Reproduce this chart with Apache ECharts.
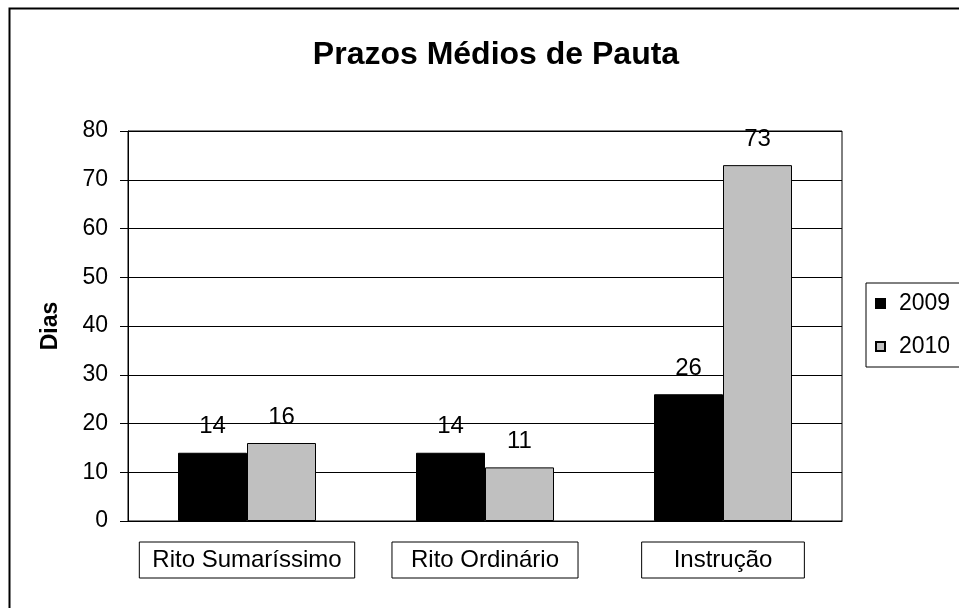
<!DOCTYPE html>
<html>
<head>
<meta charset="utf-8">
<script src="https://cdn.jsdelivr.net/npm/echarts@6/dist/echarts.min.js"></script>
<style>
  html, body { margin: 0; padding: 0; background: #fff; }
  #chart { width: 959px; height: 608px; }
</style>
</head>
<body>
<div id="chart"></div>
<script>
  const categories = ['Rito Sumaríssimo', 'Rito Ordinário', 'Instrução']
  const seriesNames = ['2009', '2010']
  const values2009 = [14, 14, 26]
  const values2010 = [16, 11, 73]
  const yTicks = [0, 10, 20, 30, 40, 50, 60, 70, 80]

  // each category box in the reference has its own width
  const boxPad = [13, 19, 32]
  const font = 'Liberation Sans, Arial, sans-serif'

  const rich = {}
  categories.forEach((c, i) => {
    rich['c' + i] = {
      fontSize: 24,
      lineHeight: 26,
      color: '#000',
      fontFamily: font,
      borderColor: '#000',
      borderWidth: 1,
      padding: [6, boxPad[i], 6, boxPad[i]]
    }
  })

  const chart = echarts.init(document.getElementById('chart'))
  const option = {
    backgroundColor: '#fff',
    animation: false,
    title: {
      text: 'Prazos Médios de Pauta',
      left: 491,
      textAlign: 'center',
      top: 34,
      textStyle: { fontSize: 32, fontWeight: 'bold', color: '#000', fontFamily: font }
    },
    legend: {
      orient: 'vertical',
      left: 866,
      top: 283,
      padding: [9, 20, 9, 9],
      itemGap: 20,
      itemWidth: 9,
      itemHeight: 9,
      borderColor: '#000',
      borderWidth: 1,
      icon: 'rect',
      data: seriesNames,
      textStyle: { fontSize: 23, color: '#000', fontFamily: font, padding: [0, 0, 0, 9] }
    },
    grid: {
      left: 128, right: 117, top: 131, bottom: 87,
      show: true, borderColor: '#000', borderWidth: 1
    },
    xAxis: {
      type: 'category',
      data: categories,
      axisLine: { lineStyle: { color: '#000', width: 1 } },
      axisTick: { show: false },
      axisLabel: {
        margin: 26,
        interval: 0,
        formatter: (v, i) => '{c' + i + '|' + v + '}',
        rich: rich
      }
    },
    yAxis: {
      type: 'value',
      min: yTicks[0],
      max: yTicks[yTicks.length - 1],
      interval: yTicks[1] - yTicks[0],
      name: 'Dias',
      nameLocation: 'middle',
      nameRotate: 90,
      nameGap: 66,
      nameTextStyle: { fontSize: 23, fontWeight: 'bold', color: '#000', fontFamily: font },
      axisLine: { show: true, lineStyle: { color: '#000', width: 1 } },
      axisTick: { show: true, inside: false, length: 8, lineStyle: { color: '#000' } },
      axisLabel: { fontSize: 23, color: '#000', margin: 20, fontFamily: font },
      splitLine: { lineStyle: { color: '#000', width: 1 } }
    },
    series: [
      {
        name: seriesNames[0],
        type: 'bar',
        data: values2009,
        barWidth: 69,
        barGap: '0%',
        itemStyle: { color: '#000', borderColor: '#000', borderWidth: 1 },
        label: { show: true, position: 'top', distance: 14, fontSize: 24, color: '#000', fontFamily: font }
      },
      {
        name: seriesNames[1],
        type: 'bar',
        data: values2010,
        barWidth: 69,
        barGap: '0%',
        itemStyle: { color: '#c0c0c0', borderColor: '#000', borderWidth: 1 },
        label: { show: true, position: 'top', distance: 14, fontSize: 24, color: '#000', fontFamily: font }
      }
    ],
    graphic: [
      {
        type: 'rect',
        left: 7, top: 6,
        shape: { width: 1000, height: 700 },
        style: { fill: 'none', stroke: '#000', lineWidth: 2 },
        silent: true
      }
    ]
  }
  chart.setOption(option)
</script>
</body>
</html>
